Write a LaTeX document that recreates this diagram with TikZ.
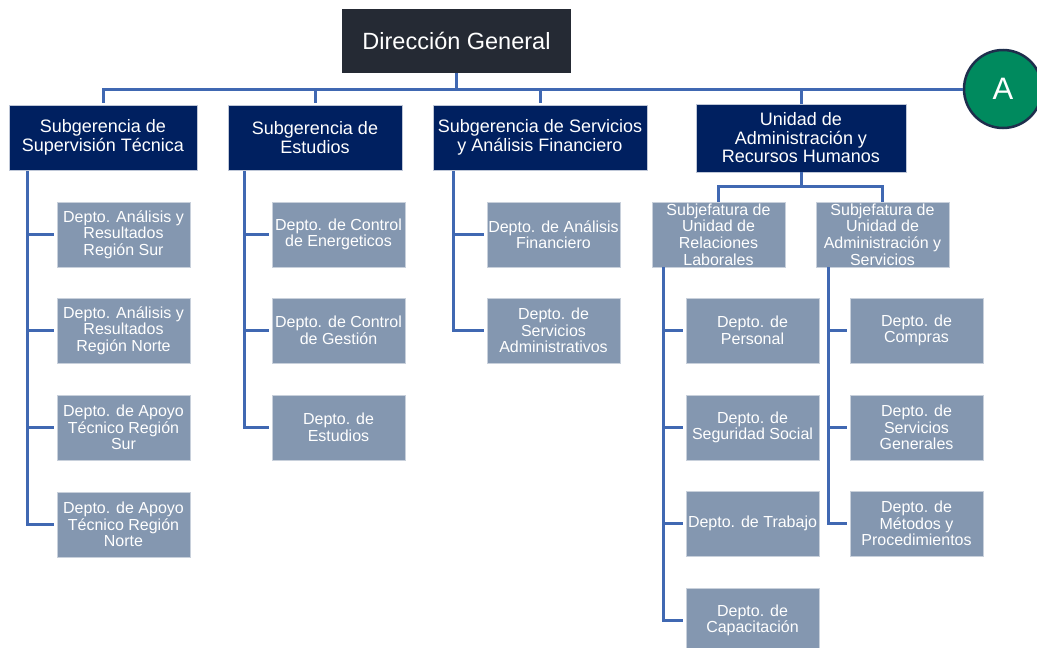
\documentclass[tikz,border=0pt]{standalone}
\usepackage{fontspec}
\setmainfont{Liberation Sans}
\definecolor{dgfill}{HTML}{252A34}
\definecolor{navy}{HTML}{002060}
\definecolor{steel}{HTML}{8497B0}
\definecolor{conncol}{HTML}{4068B2}
\definecolor{green}{HTML}{008A5E}
\definecolor{ringcol}{HTML}{1E2E4C}
\tikzset{
  topbox/.style={rectangle, fill=dgfill, text=white, minimum width=229pt, minimum height=64pt, inner sep=0pt, align=center, font=\fontsize{23.5}{26}\selectfont},
  subbox/.style={rectangle, fill=navy, draw=white!75!navy, line width=0.6pt, text=white, minimum height=65pt, inner sep=0pt, align=center, font=\fontsize{18}{18.5}\selectfont},
  deptbox/.style={rectangle, fill=steel, draw=white!55!steel, line width=0.8pt, text=white, minimum width=133pt, minimum height=65pt, inner sep=0pt, align=center, font=\fontsize{16}{16.6}\selectfont},
  conn/.style={draw=conncol, line width=3pt},
  circA/.style={circle, fill=green, draw=ringcol, line width=2.5pt, minimum size=78pt, inner sep=0pt, text=white, font=\fontsize{31}{33}\selectfont}
}
\begin{document}
\begin{tikzpicture}[x=1pt,y=-1pt]
\useasboundingbox (0,0) rectangle (1037,648);
\node[circA] (ca) at (1003,89) {A};
\node[topbox] (dg) at (456.5,41) {Dirección General};
\node[subbox, minimum width=188pt] (s1) at (103,137.5) {Subgerencia de\\Supervisión Técnica};
\node[subbox, minimum width=174pt] (s2) at (315,137.5) {Subgerencia de\\Estudios};
\node[subbox, minimum width=214pt] (s3) at (540,137.5) {Subgerencia de Servicios\\y Análisis Financiero};
\node[subbox, minimum width=210pt, minimum height=68pt] (s4) at (801,138) {Unidad de\\Administración y\\Recursos Humanos};
\node[deptbox] (ja) at (718.5,234.5) {Subjefatura de\\Unidad de\\Relaciones\\Laborales};
\node[deptbox] (jb) at (882.5,234.5) {Subjefatura de\\Unidad de\\Administración y\\Servicios};
% column 1
\node[deptbox] (d11) at (123.5,234.5) {Depto. Análisis y\\Resultados\\Región Sur};
\node[deptbox] (d12) at (123.5,330.5) {Depto. Análisis y\\Resultados\\Región Norte};
\node[deptbox] (d13) at (123.5,427.5) {Depto. de Apoyo\\Técnico Región\\Sur};
\node[deptbox] (d14) at (123.5,524.5) {Depto. de Apoyo\\Técnico Región\\Norte};
% column 2
\node[deptbox] (d21) at (338.5,234.5) {Depto. de Control\\de Energeticos};
\node[deptbox] (d22) at (338.5,330.5) {Depto. de Control\\de Gestión};
\node[deptbox] (d23) at (338.5,427.5) {Depto. de\\Estudios};
% column 3
\node[deptbox] (d31) at (553.5,234.5) {Depto. de Análisis\\Financiero};
\node[deptbox] (d32) at (553.5,330.5) {Depto. de\\Servicios\\Administrativos};
% column A
\node[deptbox] (da1) at (752.5,330.5) {Depto. de\\Personal};
\node[deptbox] (da2) at (752.5,427.5) {Depto. de\\Seguridad Social};
\node[deptbox] (da3) at (752.5,523.5) {Depto. de Trabajo};
\node[deptbox] (da4) at (752.5,620.5) {Depto. de\\Capacitación};
% column B
\node[deptbox] (db1) at (916.5,330.5) {Depto. de\\Compras};
\node[deptbox] (db2) at (916.5,427.5) {Depto. de\\Servicios\\Generales};
\node[deptbox] (db3) at (916.5,523.5) {Depto. de\\Métodos y\\Procedimientos};
% top bus
\draw[conn] (dg.south) -- (dg.south |- ca.west);
\draw[conn, shorten <=2pt] (s1.north) |- (ca.west);
\draw[conn, shorten <=2pt] (s2.north) |- (ca.west);
\draw[conn, shorten <=2pt] (s3.north) |- (ca.west);
\draw[conn] (s4.north) |- (ca.west);
% unidad -> subjefaturas
\coordinate (j4) at (801,186);
\draw[conn] (s4.south) -- (j4) -| (ja.north);
\draw[conn] (j4) -| (jb.north);
% vertical trunks
\coordinate (t1) at (27,171);
\coordinate (t2) at (244,171);
\coordinate (t3) at (453,171);
\coordinate (ta) at (663,267);
\coordinate (tb) at (828,267);
\foreach \d in {d11,d12,d13,d14} \draw[conn, shorten >=3pt] (t1) |- (\d.west);
\foreach \d in {d21,d22,d23} \draw[conn, shorten >=3pt] (t2) |- (\d.west);
\foreach \d in {d31,d32} \draw[conn, shorten >=3pt] (t3) |- (\d.west);
\foreach \d in {da1,da2,da3,da4} \draw[conn, shorten >=3pt] (ta) |- (\d.west);
\foreach \d in {db1,db2,db3} \draw[conn, shorten >=3pt] (tb) |- (\d.west);
\end{tikzpicture}
\end{document}
